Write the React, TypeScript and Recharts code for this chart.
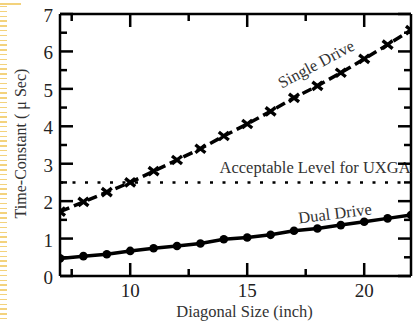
import React from 'react';
import { ComposedChart, Line, XAxis, YAxis, ReferenceLine, ReferenceDot } from 'recharts';

const sizes = [7, 8, 9, 10, 11, 12, 13, 14, 15, 16, 17, 18, 19, 20, 21, 22];
const singleDrive = [1.72, 1.98, 2.24, 2.5, 2.8, 3.1, 3.4, 3.74, 4.06, 4.4, 4.76, 5.08, 5.43, 5.8, 6.18, 6.57];
const dualDrive = [0.47, 0.53, 0.58, 0.67, 0.74, 0.8, 0.87, 0.98, 1.03, 1.1, 1.21, 1.27, 1.36, 1.45, 1.54, 1.63];
const xTicks = [7.5, 10, 12.5, 15, 17.5, 20];
const xMajorTicks = [10, 15, 20];
const yTicks = [0, 0.5, 1, 1.5, 2, 2.5, 3, 3.5, 4, 4.5, 5, 5.5, 6, 6.5, 7];
const acceptableLevel = 2.5;
const xLabel = 'Diagonal Size (inch)';
const yLabel = 'Time-Constant ( \u03bc Sec)';
const singleLabel = 'Single Drive';
const dualLabel = 'Dual Drive';
const levelLabel = 'Acceptable Level for UXGA';

const data = sizes.map((s, i) => ({ size: s, single: singleDrive[i], dual: dualDrive[i] }));

const FONT = 'Liberation Serif';
const MAJOR = 13;
const MINOR = 7;
const TICK_W = 2.5;
const TEXT_FILL = '#333';

const isMajorY = (v: number) => Number.isInteger(v);

function BottomTick(props: any) {
  const { x, y, payload } = props;
  const v = payload.value;
  const major = xMajorTicks.includes(v);
  return (
    <g>
      <line x1={x} x2={x} y1={y} y2={y - (major ? MAJOR : MINOR)} stroke="#000" strokeWidth={TICK_W} />
      {major && (
        <text x={x} y={y + 21} textAnchor="middle" fontSize={19} fontFamily={FONT} fill="#222">
          {v}
        </text>
      )}
    </g>
  );
}

function TopTick(props: any) {
  const { x, y, payload } = props;
  const major = xMajorTicks.includes(payload.value);
  return <line x1={x} x2={x} y1={y} y2={y + (major ? MAJOR : MINOR)} stroke="#000" strokeWidth={TICK_W} />;
}

function LeftTick(props: any) {
  const { x, y, payload } = props;
  const v = payload.value;
  const major = isMajorY(v);
  return (
    <g>
      <line x1={x} x2={x + (major ? MAJOR : MINOR)} y1={y} y2={y} stroke="#000" strokeWidth={TICK_W} />
      {major && (
        <text x={x - 7} y={y + 8} textAnchor="end" fontSize={19} fontFamily={FONT} fill="#222">
          {v}
        </text>
      )}
    </g>
  );
}

function RightTick(props: any) {
  const { x, y, payload } = props;
  const major = isMajorY(payload.value);
  return <line x1={x} x2={x - (major ? MAJOR : MINOR)} y1={y} y2={y} stroke="#000" strokeWidth={TICK_W} />;
}

function CrossDot(props: any) {
  const { cx, cy } = props;
  if (cx == null || cy == null) return null;
  return (
    <path
      d={`M${cx - 5},${cy - 4}L${cx + 5},${cy + 4}M${cx - 5},${cy + 4}L${cx + 5},${cy - 4}`}
      stroke="#000"
      strokeWidth={3.4}
      fill="none"
    />
  );
}

function RoundDot(props: any) {
  const { cx, cy } = props;
  if (cx == null || cy == null) return null;
  return <circle cx={cx} cy={cy} r={4.3} fill="#000" />;
}

function XAxisLabel(props: any) {
  const vb = props.viewBox;
  return (
    <text x={vb.x + vb.width / 2 + 9} y={vb.y + 41} textAnchor="middle" fontSize={16.5} fontFamily={FONT} fill={TEXT_FILL}>
      {xLabel}
    </text>
  );
}

function YAxisLabel(props: any) {
  const vb = props.viewBox;
  const cx = vb.x + 26;
  const cy = vb.y + vb.height / 2 - 1.5;
  return (
    <text x={cx} y={cy} transform={`rotate(-90, ${cx}, ${cy})`} textAnchor="middle" fontSize={16} fontFamily={FONT} fill={TEXT_FILL}>
      {yLabel}
    </text>
  );
}

function makeCenteredText(value: string, angle: number, size: number) {
  return (props: any) => {
    const vb = props.viewBox;
    const x = vb.x + (vb.width || 0) / 2;
    const y = vb.y + (vb.height || 0) / 2;
    return (
      <text
        x={x}
        y={y}
        dy="0.33em"
        textAnchor="middle"
        transform={`rotate(${angle}, ${x}, ${y})`}
        fontSize={size}
        fontFamily={FONT}
        fill={TEXT_FILL}
      >
        {value}
      </text>
    );
  };
}

const SingleText = makeCenteredText(singleLabel, -28, 16.5);
const DualText = makeCenteredText(dualLabel, -7, 16.5);
const LevelText = makeCenteredText(levelLabel, 0, 16.5);

export default function App() {
  return (
    <div style={{ position: 'absolute', left: 0, top: 0, width: 413, height: 322, background: '#fff', overflow: 'hidden' }}>
      <div
        style={{
          position: 'absolute',
          left: 0,
          top: 6,
          width: 7,
          height: 316,
          background: 'repeating-linear-gradient(to bottom, #f3d27c 0px, #f3d27c 1.5px, transparent 1.5px, transparent 4.8px)',
        }}
      />
      <div style={{ position: 'absolute', left: 0, top: 3, width: 21, height: 1.5, background: '#f3d27c' }} />
      <div style={{ position: 'absolute', left: 0, top: 0 }}>
        <ComposedChart width={413} height={322} data={data} margin={{ top: 14, right: 2, left: 0, bottom: 0 }}>
          <XAxis
            dataKey="size"
            type="number"
            domain={[7, 22]}
            ticks={xTicks}
            interval={0}
            allowDataOverflow
            height={46}
            tickSize={0}
            tickMargin={0}
            tickLine={false}
            axisLine={{ stroke: '#000', strokeWidth: 2.5 }}
            tick={<BottomTick />}
            label={{ content: XAxisLabel }}
          />
          <XAxis
            xAxisId="top"
            orientation="top"
            mirror
            dataKey="size"
            type="number"
            domain={[7, 22]}
            ticks={xTicks}
            interval={0}
            allowDataOverflow
            tickSize={0}
            tickMargin={0}
            tickLine={false}
            axisLine={{ stroke: '#000', strokeWidth: 2.5 }}
            tick={<TopTick />}
          />
          <YAxis
            type="number"
            domain={[0, 7]}
            ticks={yTicks}
            interval={0}
            allowDataOverflow
            width={60}
            tickSize={0}
            tickMargin={0}
            tickLine={false}
            axisLine={{ stroke: '#000', strokeWidth: 2.5 }}
            tick={<LeftTick />}
            label={{ content: YAxisLabel }}
          />
          <YAxis
            yAxisId="right"
            orientation="right"
            mirror
            type="number"
            domain={[0, 7]}
            ticks={yTicks}
            interval={0}
            allowDataOverflow
            tickSize={0}
            tickMargin={0}
            tickLine={false}
            axisLine={{ stroke: '#000', strokeWidth: 2.5 }}
            tick={<RightTick />}
          />
          <ReferenceLine y={acceptableLevel} stroke="#000" strokeWidth={2.5} strokeDasharray="3 9.5" />
          <Line
            type="linear"
            dataKey="single"
            stroke="#000"
            strokeWidth={3.5}
            strokeDasharray="10 5"
            dot={<CrossDot />}
            isAnimationActive={false}
          />
          <Line
            type="linear"
            dataKey="dual"
            stroke="#000"
            strokeWidth={3.5}
            dot={<RoundDot />}
            isAnimationActive={false}
          />
          <ReferenceDot x={17.95} y={5.66} r={0} stroke="none" label={{ content: SingleText }} />
          <ReferenceDot x={18.75} y={1.67} r={0} stroke="none" label={{ content: DualText }} />
          <ReferenceDot x={17.9} y={2.9} r={0} stroke="none" label={{ content: LevelText }} />
        </ComposedChart>
      </div>
    </div>
  );
}
